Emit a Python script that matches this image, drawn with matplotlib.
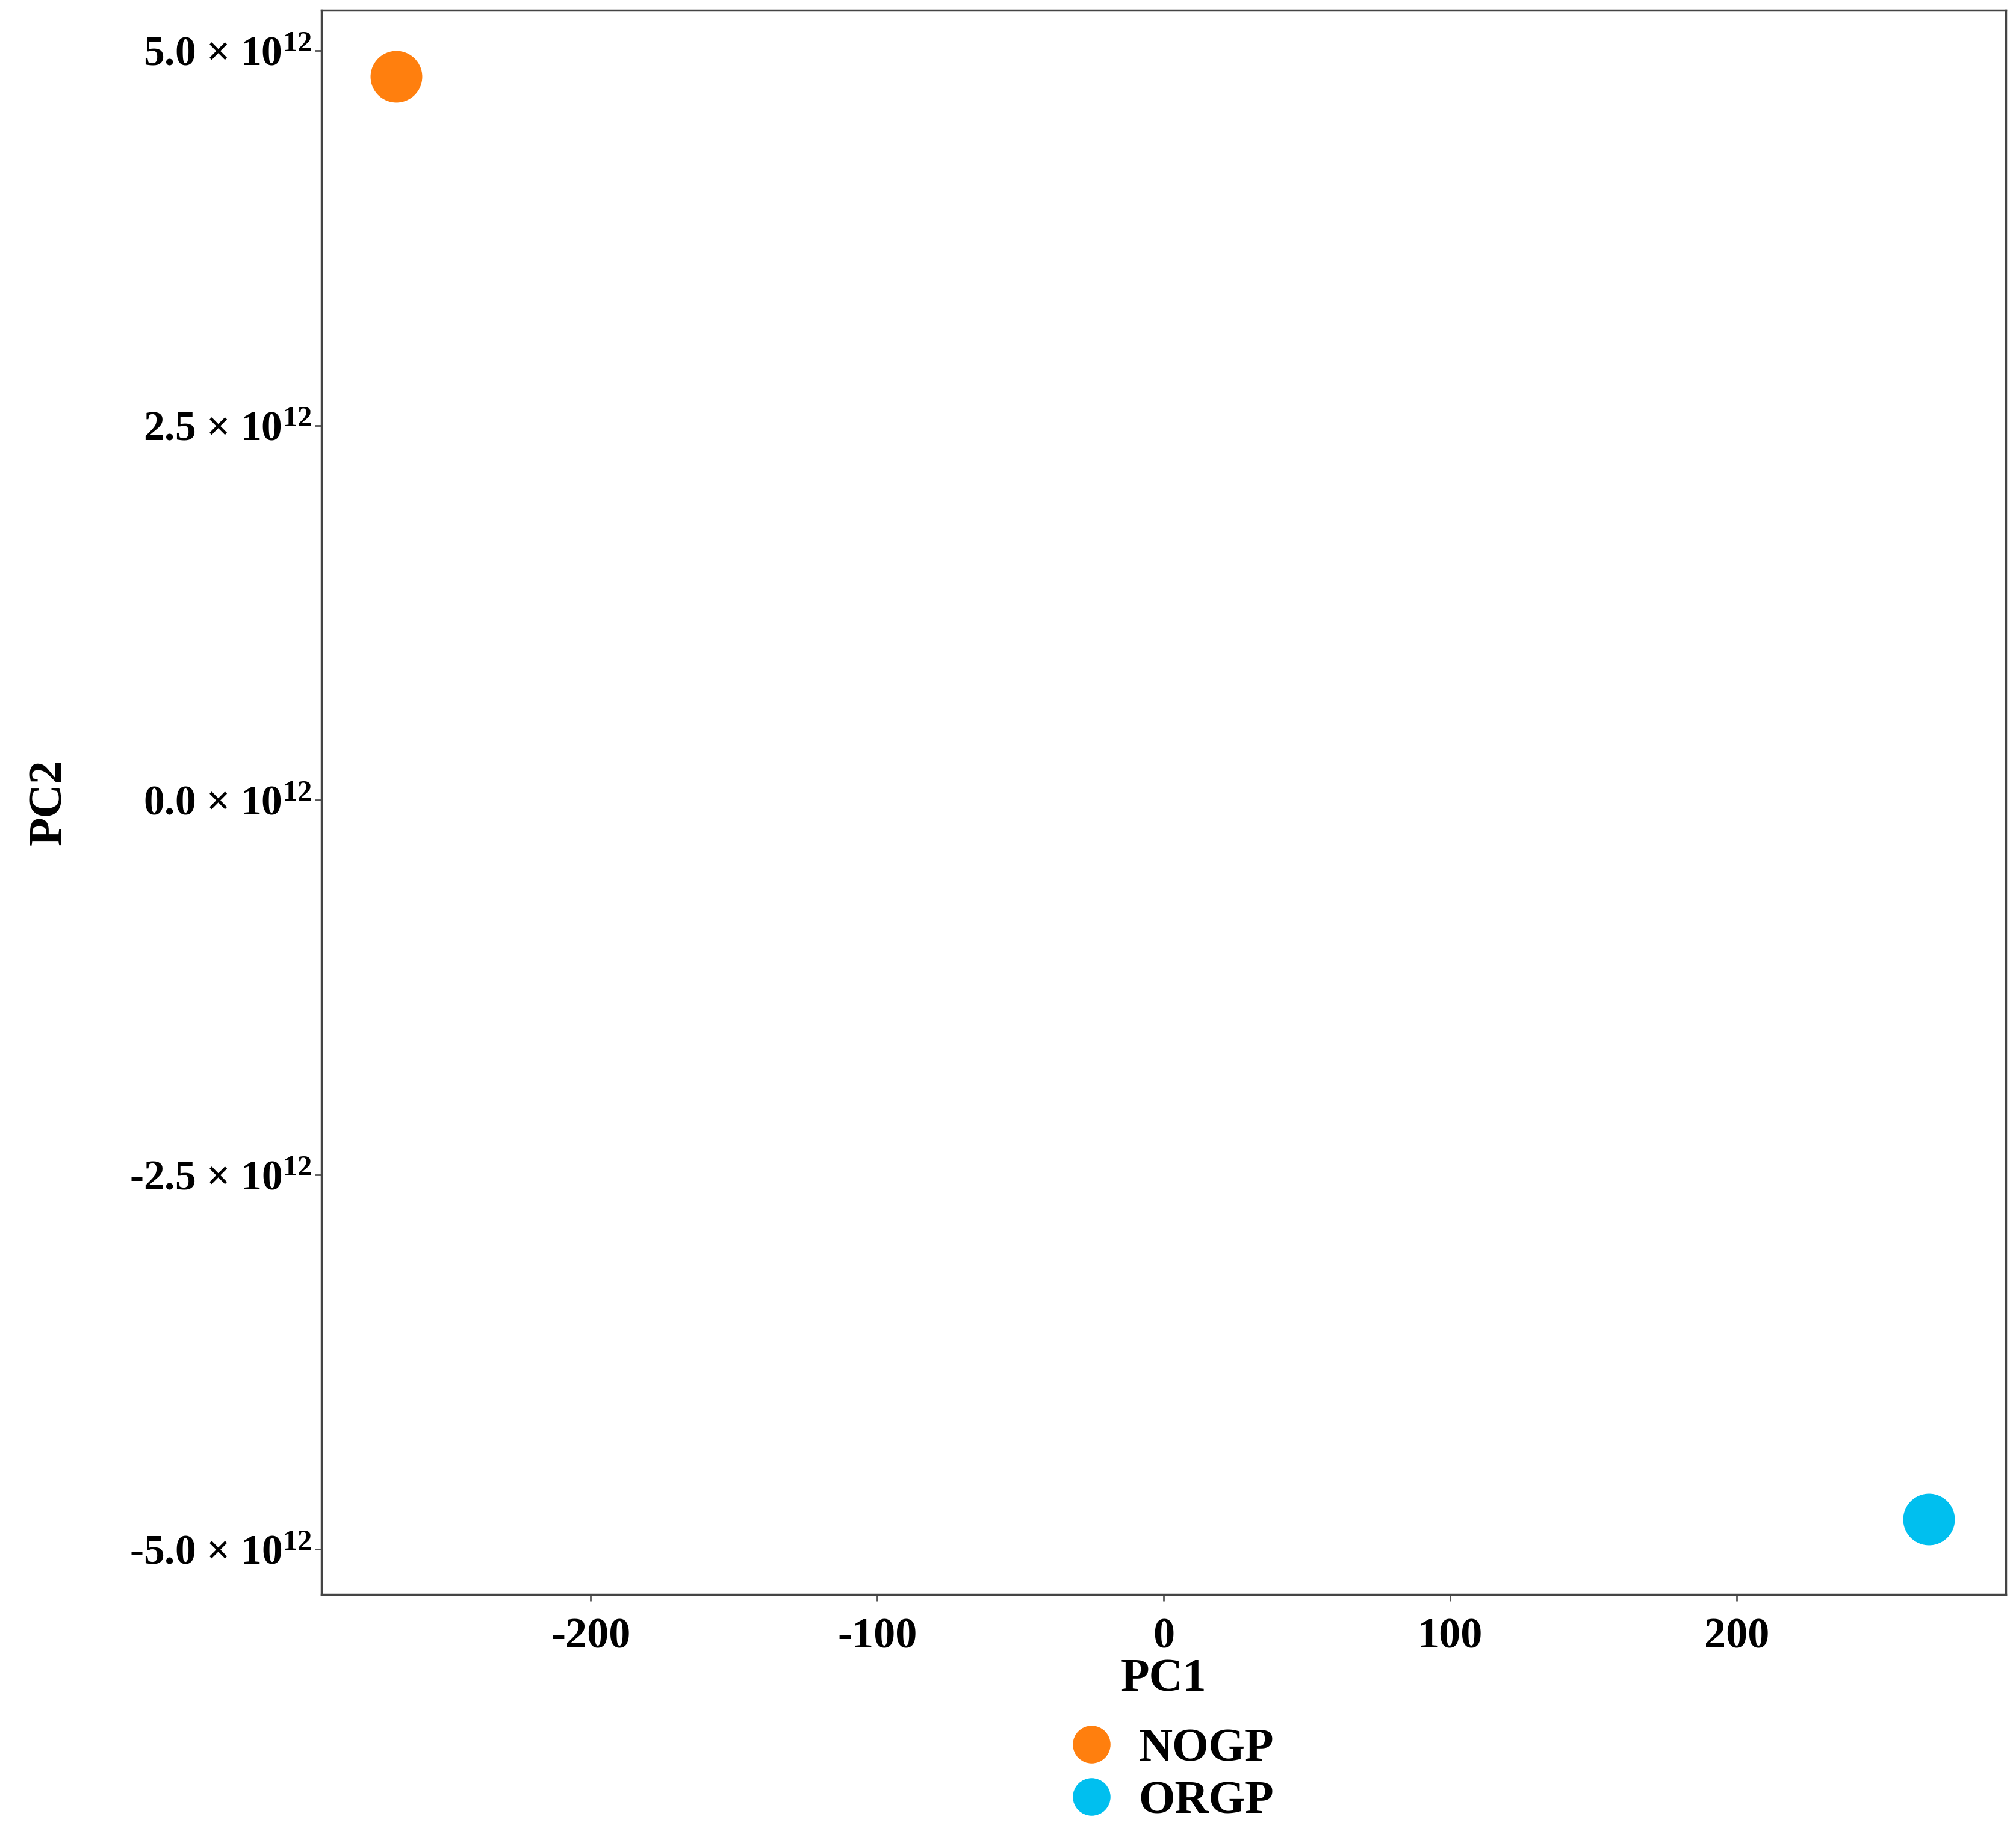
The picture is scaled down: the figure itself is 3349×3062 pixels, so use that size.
import matplotlib
matplotlib.use("Agg")
import matplotlib.pyplot as plt
from matplotlib.lines import Line2D

groups = ["NOGP", "ORGP"]
pc1 = [-268, 267]
pc2 = [4.83e12, -4.80e12]
colors = ["#FF7F0E", "#00BFEF"]
xticks = [-200, -100, 0, 100, 200]
yticks = [-5.0e12, -2.5e12, 0.0, 2.5e12, 5.0e12]
ytick_labels = [r"-5.0 $\times$ 10$^{12}$", r"-2.5 $\times$ 10$^{12}$", r"0.0 $\times$ 10$^{12}$",
                r"2.5 $\times$ 10$^{12}$", r"5.0 $\times$ 10$^{12}$"]

plt.rcParams['font.family'] = ['Liberation Serif', 'DejaVu Serif']
plt.rcParams['mathtext.fontset'] = 'custom'
plt.rcParams['mathtext.rm'] = 'Liberation Serif:bold'
plt.rcParams['mathtext.default'] = 'rm'

fig = plt.figure(figsize=(33.49, 30.62), dpi=100)
ax = fig.add_axes([534/3349, 1 - 2649/3062, (3332-534)/3349, (2649-17)/3062])
for g, x, y, c in zip(groups, pc1, pc2, colors):
    ax.scatter([x], [y], s=3700, color=c, label=g, zorder=3)
ax.set_xlim(-294, 294)
ax.set_ylim(-5.30e12, 5.27e12)
ax.set_xticks(xticks)
ax.set_xticklabels([str(t) for t in xticks], fontsize=52, fontweight='bold')
ax.set_yticks(yticks)
ax.set_yticklabels(ytick_labels, fontsize=50, fontweight='bold')
ax.tick_params(length=8, width=2, color='#555555')
ax.tick_params(axis='x', pad=20)
for s in ax.spines.values():
    s.set_color('#444444'); s.set_linewidth(2.5)
ax.set_xlabel("PC1", fontsize=56, fontweight='bold', labelpad=2)
ax.set_ylabel("PC2", fontsize=56, fontweight='bold', labelpad=70)
handles = [Line2D([], [], marker='o', ls='', color=c, markersize=44) for c in colors]
leg = fig.legend(handles, groups, loc='upper center', bbox_to_anchor=(0.575, 0.075), frameon=False,
                 prop={'family': 'Liberation Serif', 'weight': 'bold', 'size': 56},
                 handletextpad=0.0, labelspacing=0.2, borderpad=0)
fig.savefig("out.png", dpi=100)
